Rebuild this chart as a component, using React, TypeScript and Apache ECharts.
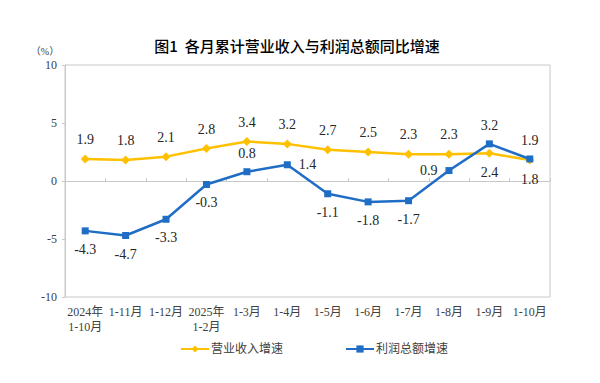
import React, { useEffect, useRef } from "react";
import * as echarts from "echarts";

const categories = [
  "2024年\n1-10月",
  "1-11月",
  "1-12月",
  "2025年\n1-2月",
  "1-3月",
  "1-4月",
  "1-5月",
  "1-6月",
  "1-7月",
  "1-8月",
  "1-9月",
  "1-10月",
];
const revenueGrowth = [1.9, 1.8, 2.1, 2.8, 3.4, 3.2, 2.7, 2.5, 2.3, 2.3, 2.4, 1.8];
const profitGrowth = [-4.3, -4.7, -3.3, -0.3, 0.8, 1.4, -1.1, -1.8, -1.7, 0.9, 3.2, 1.9];
const yTicks = { min: -10, max: 10, interval: 5 };
const seriesNames = ["营业收入增速", "利润总额增速"];
const titleText = "图1  各月累计营业收入与利润总额同比增速";
const unitText = "（%）";

const SERIF = "'Times New Roman', 'Liberation Serif', 'Noto Sans CJK SC', serif";
const YELLOW = "#FFC000";
const BLUE = "#1F6DC5";

export default function App() {
  const ref = useRef<HTMLDivElement>(null);
  useEffect(() => {
    if (!ref.current) return;
    const chart = echarts.init(ref.current, undefined, { renderer: "svg" });

    const revPos: Record<number, string> = { 10: "bottom", 11: "bottom" };
    const profPos: Record<number, string> = {
      4: "top",
      5: "right",
      9: "left",
      10: "top",
      11: "top",
    };

    const labelBase = {
      show: true,
      fontFamily: SERIF,
      fontSize: 14,
      color: "#262626",
      distance: 8,
    };

    const option: any = {
      animation: false,
      backgroundColor: "#ffffff",
      title: {
        text: titleText,
        left: 292,
        top: 33,
        textAlign: "center",
        textStyle: {
          fontFamily: "'Noto Sans CJK SC', sans-serif",
          fontSize: 15,
          fontWeight: 500,
          color: "#000000",
        },
      },
      graphic: [
        {
          type: "text",
          x: 45,
          y: 51,
          style: {
            text: unitText,
            font: `10px ${SERIF}`,
            fill: "#404040",
            textAlign: "center",
            textVerticalAlign: "middle",
          },
        },
      ],
      legend: {
        left: 175,
        top: 338,
        itemWidth: 28,
        itemHeight: 9,
        itemGap: 62,
        textStyle: {
          fontFamily: SERIF,
          fontSize: 12,
          color: "#404040",
          padding: [0, 0, 0, -3],
        },
        data: seriesNames,
      },
      grid: {
        left: 65,
        right: 50,
        top: 65,
        bottom: 86,
        show: true,
        borderColor: "#c8c8c8",
        borderWidth: 1,
        backgroundColor: "transparent",
      },
      xAxis: [
        {
          type: "category",
          data: categories,
          position: "bottom",
          boundaryGap: true,
          axisLine: { show: false, onZero: false },
          axisTick: { show: false },
          axisLabel: {
            interval: 0,
            margin: 7,
            fontFamily: SERIF,
            fontSize: 12,
            lineHeight: 15,
            color: "#404040",
          },
        },
        {
          type: "category",
          data: categories,
          position: "bottom",
          boundaryGap: true,
          axisLine: { show: true, onZero: true, lineStyle: { color: "#c8c8c8", width: 1 } },
          axisTick: {
            show: true,
            inside: true,
            length: 3,
            interval: 0,
            lineStyle: { color: "#c8c8c8" },
          },
          axisLabel: { show: false },
        },
      ],
      yAxis: {
        type: "value",
        min: yTicks.min,
        max: yTicks.max,
        interval: yTicks.interval,
        axisLine: { show: true, lineStyle: { color: "#c8c8c8" } },
        axisTick: { show: true, length: 3, lineStyle: { color: "#c8c8c8" } },
        splitLine: { show: false },
        axisLabel: {
          margin: 8,
          fontFamily: SERIF,
          fontSize: 12,
          color: "#404040",
        },
      },
      series: [
        {
          name: seriesNames[0],
          type: "line",
          xAxisIndex: 0,
          data: revenueGrowth.map((v, i) => ({
            value: v,
            label: { position: revPos[i] || "top" },
          })),
          symbol: "diamond",
          symbolSize: 9,
          lineStyle: { color: YELLOW, width: 2.5 },
          itemStyle: { color: YELLOW },
          label: { ...labelBase, position: "top" },
          z: 2,
        },
        {
          name: seriesNames[1],
          type: "line",
          xAxisIndex: 0,
          data: profitGrowth.map((v, i) => ({
            value: v,
            label: { position: profPos[i] || "bottom" },
          })),
          symbol: "rect",
          symbolSize: 7,
          lineStyle: { color: BLUE, width: 2.5 },
          itemStyle: { color: BLUE },
          label: { ...labelBase, position: "bottom" },
          z: 3,
        },
      ],
    };
    chart.setOption(option);
    return () => chart.dispose();
  }, []);

  return (
    <div
      ref={ref}
      style={{ position: "fixed", left: 0, top: 0, width: 600, height: 383, background: "#fff" }}
    />
  );
}
